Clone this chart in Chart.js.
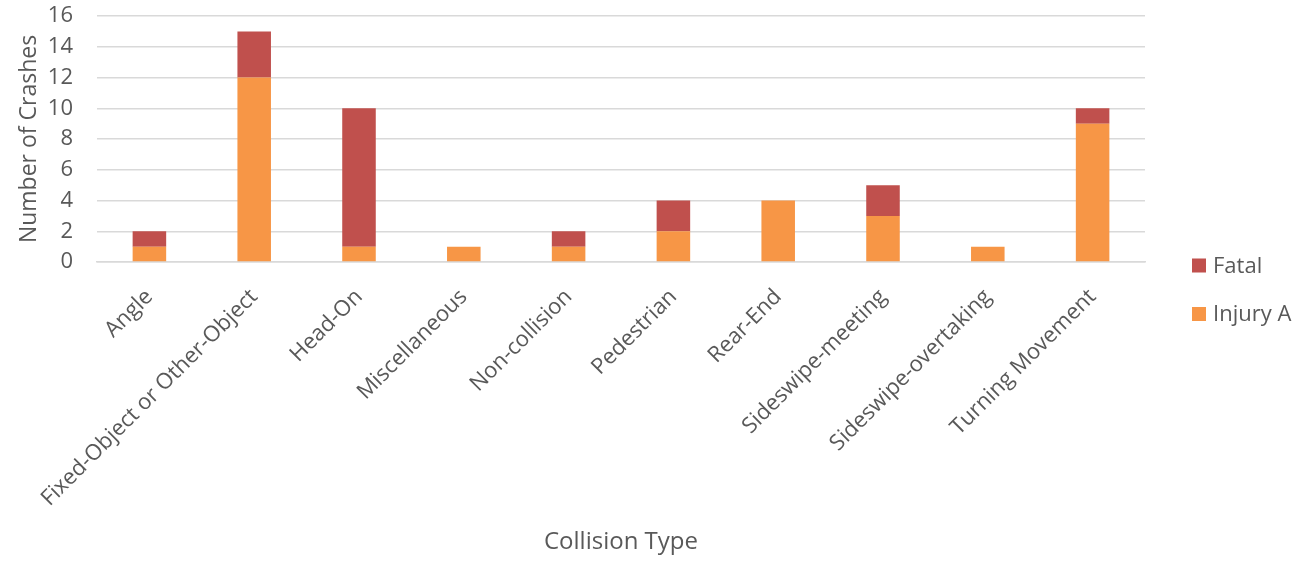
<!DOCTYPE html>
<html>
<head>
<meta charset="utf-8">
<script src="https://cdn.jsdelivr.net/npm/chart.js@4/dist/chart.umd.min.js"></script>
<style>
  html, body { margin: 0; padding: 0; background: #fff; }
  #wrap { width: 1310px; height: 563px; position: relative; }
</style>
</head>
<body>
<div id="wrap"><canvas id="c" width="1310" height="563"></canvas></div>
<script>
// Crash counts by collision type
const categories = [
  'Angle', 'Fixed-Object or Other-Object', 'Head-On', 'Miscellaneous',
  'Non-collision', 'Pedestrian', 'Rear-End', 'Sideswipe-meeting',
  'Sideswipe-overtaking', 'Turning Movement'
];
const injuryA = [1, 12, 1, 1, 1, 2, 4, 3, 1, 9];
const fatal   = [1, 3, 9, 0, 1, 2, 0, 2, 0, 1];
const yTicks  = [0, 2, 4, 6, 8, 10, 12, 14, 16];

const FONT = "'Open Sans', 'Noto Sans', sans-serif";
const TEXT = '#595959';

// Vertical legend drawn to the right of the plot, Fatal listed first
const sideLegend = {
  id: 'sideLegend',
  afterDraw(chart) {
    const ctx = chart.ctx;
    const items = [chart.data.datasets[1], chart.data.datasets[0]];
    const x = 1192, y0 = 265.5, gap = 48.5, box = 14;
    ctx.save();
    ctx.font = '22px ' + FONT;
    ctx.textBaseline = 'middle';
    ctx.textAlign = 'left';
    items.forEach((ds, i) => {
      const y = y0 + i * gap;
      ctx.fillStyle = ds.backgroundColor;
      ctx.fillRect(x, y - box / 2, box, box);
      ctx.fillStyle = TEXT;
      ctx.fillText(ds.label, x + box + 7, y + 1);
    });
    ctx.restore();
  }
};

new Chart(document.getElementById('c'), {
  type: 'bar',
  data: {
    labels: categories,
    datasets: [
      { label: 'Injury A', data: injuryA, backgroundColor: '#F79646',
        barPercentage: 0.32, categoryPercentage: 1.0 },
      { label: 'Fatal', data: fatal, backgroundColor: '#C0504D',
        barPercentage: 0.32, categoryPercentage: 1.0 }
    ]
  },
  options: {
    responsive: false,
    animation: false,
    devicePixelRatio: 1,
    layout: { padding: { top: 16, right: 165, left: 0, bottom: 0 } },
    plugins: {
      legend: { display: false },
      tooltip: { enabled: false }
    },
    scales: {
      x: {
        stacked: true,
        afterFit(scale) {
          scale.height = 301;
          scale.paddingLeft = 0; scale.paddingRight = 0;
        },
        grid: { display: false },
        border: { display: true, color: '#D9D9D9', width: 1.5 },
        ticks: {
          color: TEXT, font: { family: FONT, size: 22 },
          maxRotation: 45, minRotation: 45, autoSkip: false, padding: 14
        },
        title: {
          display: true, text: 'Collision Type', color: TEXT,
          font: { family: FONT, size: 24 }, padding: { top: 0, bottom: 6 }
        }
      },
      y: {
        stacked: true,
        min: 0, max: 16,
        afterBuildTicks(scale) { scale.ticks = yTicks.map(v => ({ value: v })); },
        afterFit(scale) {
          scale.width = 97;
          scale.paddingTop = 0; scale.paddingBottom = 0;
        },
        grid: { color: '#D9D9D9', lineWidth: 1.5, drawTicks: false },
        border: { display: false },
        ticks: { color: TEXT, font: { family: FONT, size: 22 }, padding: 24, autoSkip: false },
        title: {
          display: true, text: 'Number of Crashes', color: TEXT,
          font: { family: FONT, size: 23 }, padding: { top: 16, bottom: 0 }
        }
      }
    }
  },
  plugins: [sideLegend]
});
</script>
</body>
</html>
